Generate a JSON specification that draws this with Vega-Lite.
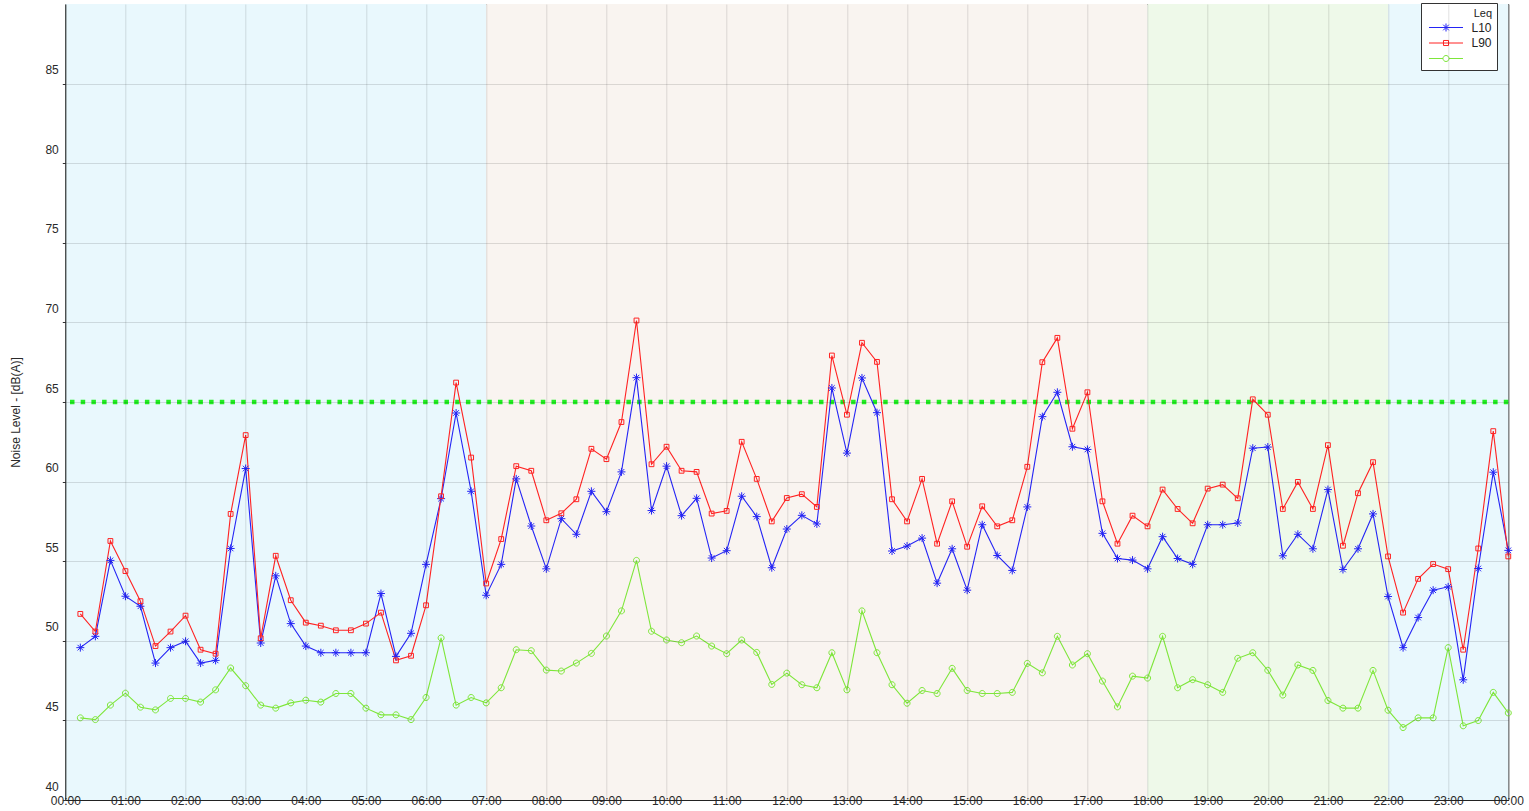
{
  "$schema": "https://vega.github.io/schema/vega-lite/v6.json",
  "autosize": {"type": "none"},
  "padding": {"left": 65.3, "top": 4, "right": 20.7, "bottom": 11},
  "width": 1443,
  "height": 796,
  "background": "#ffffff",
  "config": {
    "font": "Liberation Sans",
    "view": {"stroke": "#333333", "strokeWidth": 1}
  },
  "datasets": {
    "bands": [
      {"start": "2024-01-01T00:00", "end": "2024-01-01T07:00", "period": "Night"},
      {"start": "2024-01-01T07:00", "end": "2024-01-01T18:00", "period": "Day"},
      {"start": "2024-01-01T18:00", "end": "2024-01-01T22:00", "period": "Evening"},
      {"start": "2024-01-01T22:00", "end": "2024-01-02T00:00", "period": "Night"}
    ],
    "limit": [{"level": 65}],
    "levels": [
      {"time": "2024-01-01T00:15", "Leq": 49.57, "L10": 51.69, "L90": 45.16},
      {"time": "2024-01-01T00:30", "Leq": 50.28, "L10": 50.58, "L90": 45.05},
      {"time": "2024-01-01T00:45", "Leq": 55.05, "L10": 56.27, "L90": 45.96},
      {"time": "2024-01-01T01:00", "Leq": 52.80, "L10": 54.38, "L90": 46.71},
      {"time": "2024-01-01T01:15", "Leq": 52.17, "L10": 52.49, "L90": 45.83},
      {"time": "2024-01-01T01:30", "Leq": 48.60, "L10": 49.67, "L90": 45.66},
      {"time": "2024-01-01T01:45", "Leq": 49.57, "L10": 50.58, "L90": 46.38},
      {"time": "2024-01-01T02:00", "Leq": 49.97, "L10": 51.58, "L90": 46.38},
      {"time": "2024-01-01T02:15", "Leq": 48.60, "L10": 49.44, "L90": 46.15},
      {"time": "2024-01-01T02:30", "Leq": 48.77, "L10": 49.19, "L90": 46.92},
      {"time": "2024-01-01T02:45", "Leq": 55.80, "L10": 57.97, "L90": 48.29},
      {"time": "2024-01-01T03:00", "Leq": 60.82, "L10": 62.92, "L90": 47.18},
      {"time": "2024-01-01T03:15", "Leq": 49.86, "L10": 50.16, "L90": 45.96},
      {"time": "2024-01-01T03:30", "Leq": 54.08, "L10": 55.34, "L90": 45.77},
      {"time": "2024-01-01T03:45", "Leq": 51.08, "L10": 52.55, "L90": 46.10},
      {"time": "2024-01-01T04:00", "Leq": 49.67, "L10": 51.14, "L90": 46.27},
      {"time": "2024-01-01T04:15", "Leq": 49.25, "L10": 50.95, "L90": 46.15},
      {"time": "2024-01-01T04:30", "Leq": 49.25, "L10": 50.66, "L90": 46.69},
      {"time": "2024-01-01T04:45", "Leq": 49.25, "L10": 50.66, "L90": 46.69},
      {"time": "2024-01-01T05:00", "Leq": 49.25, "L10": 51.08, "L90": 45.77},
      {"time": "2024-01-01T05:15", "Leq": 52.97, "L10": 51.77, "L90": 45.35},
      {"time": "2024-01-01T05:30", "Leq": 49.02, "L10": 48.77, "L90": 45.35},
      {"time": "2024-01-01T05:45", "Leq": 50.47, "L10": 49.06, "L90": 45.05},
      {"time": "2024-01-01T06:00", "Leq": 54.80, "L10": 52.23, "L90": 46.44},
      {"time": "2024-01-01T06:15", "Leq": 58.93, "L10": 59.08, "L90": 50.18},
      {"time": "2024-01-01T06:30", "Leq": 64.31, "L10": 66.22, "L90": 45.96},
      {"time": "2024-01-01T06:45", "Leq": 59.39, "L10": 61.51, "L90": 46.44},
      {"time": "2024-01-01T07:00", "Leq": 52.86, "L10": 53.60, "L90": 46.10},
      {"time": "2024-01-01T07:15", "Leq": 54.80, "L10": 56.39, "L90": 47.05},
      {"time": "2024-01-01T07:30", "Leq": 60.17, "L10": 60.97, "L90": 49.44},
      {"time": "2024-01-01T07:45", "Leq": 57.21, "L10": 60.68, "L90": 49.38},
      {"time": "2024-01-01T08:00", "Leq": 54.52, "L10": 57.57, "L90": 48.16},
      {"time": "2024-01-01T08:15", "Leq": 57.67, "L10": 58.01, "L90": 48.10},
      {"time": "2024-01-01T08:30", "Leq": 56.69, "L10": 58.89, "L90": 48.60},
      {"time": "2024-01-01T08:45", "Leq": 59.39, "L10": 62.06, "L90": 49.21},
      {"time": "2024-01-01T09:00", "Leq": 58.11, "L10": 61.41, "L90": 50.30},
      {"time": "2024-01-01T09:15", "Leq": 60.61, "L10": 63.74, "L90": 51.88},
      {"time": "2024-01-01T09:30", "Leq": 66.53, "L10": 70.12, "L90": 55.05},
      {"time": "2024-01-01T09:45", "Leq": 58.18, "L10": 61.09, "L90": 50.60},
      {"time": "2024-01-01T10:00", "Leq": 60.97, "L10": 62.19, "L90": 50.05},
      {"time": "2024-01-01T10:15", "Leq": 57.86, "L10": 60.68, "L90": 49.88},
      {"time": "2024-01-01T10:30", "Leq": 58.95, "L10": 60.61, "L90": 50.30},
      {"time": "2024-01-01T10:45", "Leq": 55.20, "L10": 57.99, "L90": 49.67},
      {"time": "2024-01-01T11:00", "Leq": 55.66, "L10": 58.16, "L90": 49.19},
      {"time": "2024-01-01T11:15", "Leq": 59.08, "L10": 62.50, "L90": 50.05},
      {"time": "2024-01-01T11:30", "Leq": 57.80, "L10": 60.17, "L90": 49.27},
      {"time": "2024-01-01T11:45", "Leq": 54.59, "L10": 57.50, "L90": 47.26},
      {"time": "2024-01-01T12:00", "Leq": 57.02, "L10": 58.97, "L90": 47.97},
      {"time": "2024-01-01T12:15", "Leq": 57.88, "L10": 59.21, "L90": 47.24},
      {"time": "2024-01-01T12:30", "Leq": 57.34, "L10": 58.41, "L90": 47.05},
      {"time": "2024-01-01T12:45", "Leq": 65.88, "L10": 67.92, "L90": 49.25},
      {"time": "2024-01-01T13:00", "Leq": 61.79, "L10": 64.20, "L90": 46.92},
      {"time": "2024-01-01T13:15", "Leq": 66.51, "L10": 68.72, "L90": 51.88},
      {"time": "2024-01-01T13:30", "Leq": 64.33, "L10": 67.52, "L90": 49.25},
      {"time": "2024-01-01T13:45", "Leq": 55.64, "L10": 58.89, "L90": 47.24},
      {"time": "2024-01-01T14:00", "Leq": 55.95, "L10": 57.50, "L90": 46.08},
      {"time": "2024-01-01T14:15", "Leq": 56.45, "L10": 60.17, "L90": 46.88},
      {"time": "2024-01-01T14:30", "Leq": 53.62, "L10": 56.10, "L90": 46.69},
      {"time": "2024-01-01T14:45", "Leq": 55.78, "L10": 58.76, "L90": 48.27},
      {"time": "2024-01-01T15:00", "Leq": 53.18, "L10": 55.91, "L90": 46.88},
      {"time": "2024-01-01T15:15", "Leq": 57.29, "L10": 58.45, "L90": 46.69},
      {"time": "2024-01-01T15:30", "Leq": 55.36, "L10": 57.19, "L90": 46.69},
      {"time": "2024-01-01T15:45", "Leq": 54.42, "L10": 57.57, "L90": 46.76},
      {"time": "2024-01-01T16:00", "Leq": 58.41, "L10": 60.93, "L90": 48.58},
      {"time": "2024-01-01T16:15", "Leq": 64.08, "L10": 67.50, "L90": 47.99},
      {"time": "2024-01-01T16:30", "Leq": 65.61, "L10": 69.03, "L90": 50.28},
      {"time": "2024-01-01T16:45", "Leq": 62.19, "L10": 63.32, "L90": 48.48},
      {"time": "2024-01-01T17:00", "Leq": 62.02, "L10": 65.61, "L90": 49.19},
      {"time": "2024-01-01T17:15", "Leq": 56.75, "L10": 58.76, "L90": 47.47},
      {"time": "2024-01-01T17:30", "Leq": 55.17, "L10": 56.10, "L90": 45.85},
      {"time": "2024-01-01T17:45", "Leq": 55.07, "L10": 57.86, "L90": 47.78},
      {"time": "2024-01-01T18:00", "Leq": 54.52, "L10": 57.19, "L90": 47.66},
      {"time": "2024-01-01T18:15", "Leq": 56.54, "L10": 59.50, "L90": 50.28},
      {"time": "2024-01-01T18:30", "Leq": 55.17, "L10": 58.28, "L90": 47.05},
      {"time": "2024-01-01T18:45", "Leq": 54.80, "L10": 57.38, "L90": 47.56},
      {"time": "2024-01-01T19:00", "Leq": 57.29, "L10": 59.56, "L90": 47.24},
      {"time": "2024-01-01T19:15", "Leq": 57.29, "L10": 59.81, "L90": 46.76},
      {"time": "2024-01-01T19:30", "Leq": 57.40, "L10": 58.95, "L90": 48.90},
      {"time": "2024-01-01T19:45", "Leq": 62.10, "L10": 65.17, "L90": 49.25},
      {"time": "2024-01-01T20:00", "Leq": 62.17, "L10": 64.20, "L90": 48.15},
      {"time": "2024-01-01T20:15", "Leq": 55.34, "L10": 58.28, "L90": 46.59},
      {"time": "2024-01-01T20:30", "Leq": 56.69, "L10": 59.98, "L90": 48.48},
      {"time": "2024-01-01T20:45", "Leq": 55.78, "L10": 58.28, "L90": 48.14},
      {"time": "2024-01-01T21:00", "Leq": 59.50, "L10": 62.29, "L90": 46.25},
      {"time": "2024-01-01T21:15", "Leq": 54.48, "L10": 55.97, "L90": 45.77},
      {"time": "2024-01-01T21:30", "Leq": 55.78, "L10": 59.27, "L90": 45.77},
      {"time": "2024-01-01T21:45", "Leq": 57.97, "L10": 61.22, "L90": 48.14},
      {"time": "2024-01-01T22:00", "Leq": 52.78, "L10": 55.30, "L90": 45.64},
      {"time": "2024-01-01T22:15", "Leq": 49.57, "L10": 51.77, "L90": 44.55},
      {"time": "2024-01-01T22:30", "Leq": 51.46, "L10": 53.89, "L90": 45.16},
      {"time": "2024-01-01T22:45", "Leq": 53.18, "L10": 54.82, "L90": 45.16},
      {"time": "2024-01-01T23:00", "Leq": 53.39, "L10": 54.50, "L90": 49.57},
      {"time": "2024-01-01T23:15", "Leq": 47.55, "L10": 49.44, "L90": 44.66},
      {"time": "2024-01-01T23:30", "Leq": 54.54, "L10": 55.80, "L90": 44.99},
      {"time": "2024-01-01T23:45", "Leq": 60.59, "L10": 63.17, "L90": 46.76},
      {"time": "2024-01-02T00:00", "Leq": 55.68, "L10": 55.30, "L90": 45.47}
    ]
  },
  "layer": [
    {
      "data": {"name": "bands"},
      "mark": {"type": "rect"},
      "encoding": {
        "x": {
          "field": "start", "type": "temporal",
          "scale": {"domain": [{"year": 2024, "month": 1, "date": 1, "hours": 0}, {"year": 2024, "month": 1, "date": 2, "hours": 0}]},
          "axis": {
            "title": null,
            "format": "%H:%M",
            "tickCount": 24,
            "grid": true,
            "gridColor": "#000000",
            "gridOpacity": 0.12,
            "ticks": false,
            "tickSize": 0,
            "labelPadding": 0,
            "labelBaseline": "middle",
            "labelFontSize": 12,
            "labelColor": "#2a2a2a",
            "labelFlush": false,
            "labelOverlap": false,
            "domainColor": "#222222",
            "zindex": 1
          }
        },
        "x2": {"field": "end"},
        "fill": {
          "field": "period", "type": "nominal",
          "scale": {"domain": ["Night", "Day", "Evening"], "range": ["#e9f8fd", "#f9f4f0", "#eef9e9"]},
          "legend": null
        }
      }
    },
    {
      "data": {"name": "limit"},
      "mark": {"type": "rule", "color": "#22ee22", "strokeWidth": 4.5, "strokeDash": [4.5, 6.2]},
      "encoding": {
        "y": {"field": "level", "type": "quantitative", "scale": {"domain": [40, 90]}}
      }
    },
    {
      "data": {"name": "levels"},
      "transform": [{"fold": ["Leq", "L10", "L90"], "as": ["series", "value"]}],
      "encoding": {
        "x": {"field": "time", "type": "temporal"},
        "y": {
          "field": "value", "type": "quantitative",
          "scale": {"domain": [40, 90], "nice": false, "zero": false},
          "axis": {
            "title": "Noise Level - [dB(A)]",
            "values": [40, 45, 50, 55, 60, 65, 70, 75, 80, 85],
            "grid": true,
            "gridColor": "#000000",
            "gridOpacity": 0.12,
            "tickSize": 3,
            "tickColor": "#333333",
            "labelPadding": 4,
            "labelBaseline": "alphabetic",
            "labelOffset": -10,
            "labelFontSize": 12,
            "labelColor": "#2a2a2a",
            "domainColor": "#222222",
            "titleFontSize": 12,
            "titleFontWeight": "normal",
            "titleColor": "#2a2a2a",
            "titleX": -50,
            "titleY": 408,
            "titleAngle": -90,
            "titleAlign": "center",
            "titleBaseline": "middle",
            "zindex": 1
          }
        },
        "color": {
          "field": "series", "type": "nominal",
          "scale": {"domain": ["Leq", "L10", "L90"], "range": ["#2424f5", "#ff2222", "#7ee63a"]},
          "legend": {
            "orient": "none",
            "legendX": 1355.7,
            "legendY": -1,
            "title": "Leq",
            "titleAnchor": "end",
            "titleFontSize": 11,
            "titleFontWeight": "normal",
            "titleColor": "#222222",
            "titlePadding": 1,
            "labelFontSize": 12,
            "labelColor": "#222222",
            "labelExpr": "datum.label == 'Leq' ? 'L10' : (datum.label == 'L10' ? 'L90' : '')",
            "fillColor": "#ffffff",
            "strokeColor": "#333333",
            "padding": 5,
            "symbolSize": 196,
            "symbolStrokeWidth": 1,
            "symbolOffset": 12.5,
            "labelOffset": 18,
            "rowPadding": 1.5,
            "encode": {
              "symbols": {
                "update": {
                  "shape": {"signal": "datum.value == 'Leq' ? 'M-2.43,0H2.43M-0.57,0H0.57M0,-0.57V0.57M-0.4,-0.4L0.4,0.4M-0.4,0.4L0.4,-0.4' : (datum.value == 'L10' ? 'M-2.43,0H2.43M-0.36,-0.36H0.36V0.36H-0.36Z' : 'M-2.43,0H-0.43M0.43,0H2.43M0.43,0A0.43,0.43,0,1,1,-0.43,0A0.43,0.43,0,1,1,0.43,0Z')"},
                  "fill": {"value": "transparent"}
                }
              }
            }
          }
        }
      },
      "layer": [
        {"mark": {"type": "line", "strokeWidth": 1.1}},
        {
          "transform": [{"filter": "datum.series == 'Leq'"}],
          "mark": {"type": "point", "filled": false, "strokeWidth": 1, "size": 64, "opacity": 1, "shape": "M-1,0H1M0,-1V1M-0.7,-0.7L0.7,0.7M-0.7,0.7L0.7,-0.7"}
        },
        {
          "transform": [{"filter": "datum.series == 'L10'"}],
          "mark": {"type": "point", "filled": false, "strokeWidth": 1, "size": 64, "opacity": 1, "shape": "M-0.6,-0.6H0.6V0.6H-0.6Z"}
        },
        {
          "transform": [{"filter": "datum.series == 'L90'"}],
          "mark": {"type": "point", "filled": false, "strokeWidth": 1, "size": 64, "opacity": 1, "shape": "M0.75,0A0.75,0.75,0,1,1,-0.75,0A0.75,0.75,0,1,1,0.75,0Z"}
        }
      ]
    }
  ]
}
